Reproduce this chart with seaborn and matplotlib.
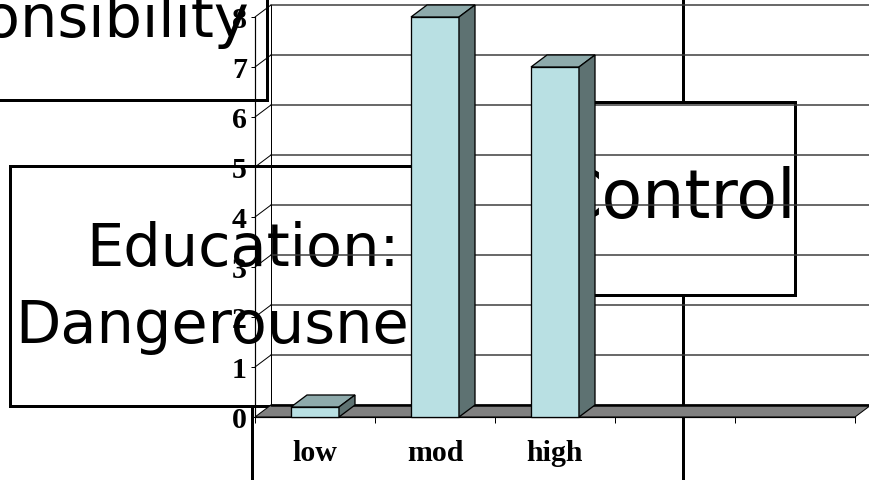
import numpy as np
import pandas as pd
import matplotlib
matplotlib.use("Agg")
import matplotlib.pyplot as plt
from matplotlib.patches import Polygon, Rectangle
from matplotlib.lines import Line2D
import seaborn as sns

# data
categories = ["low", "mod", "high"]
counts = [0.2, 8, 7]
y_ticks = [0, 1, 2, 3, 4, 5, 6, 7, 8]
n_slots = 5  # the category axis has two empty slots on the right

front_col = "#b9e0e3"
top_col = "#8eaaab"
side_col = "#5e7272"
floor_col = "#808080"
grid_col = "#3a3a3a"

sns.set_theme(style="white")

W, H = 869, 481
fig = plt.figure(figsize=(W / 100, H / 100), dpi=100)
fig.patch.set_facecolor("white")


def pt(v):
    # pixels -> points
    return v * 72 / 100


# --- slide furniture sitting behind the chart ---
def fig_line(xs, ys, lw=3, z=-5):
    fig.add_artist(Line2D([x / W for x in xs], [1 - y / H for y in ys],
                          color="black", lw=pt(lw), zorder=z))


def fig_box(x0, y0, x1, y1):
    fig.add_artist(Rectangle((x0 / W, 1 - y1 / H), (x1 - x0) / W, (y1 - y0) / H,
                             facecolor="white", edgecolor="black", lw=pt(3), zorder=-4))


def fig_text(x, y, s, ha, size=42.5):
    fig.text(x / W, 1 - y / H, s, ha=ha, va="baseline", fontsize=size,
             family="DejaVu Sans", color="black", zorder=-3)


fig_line([683, 683], [-5, 490])
fig_line([252, 252], [407, 490])

fig_box(-10, -10, 267, 101)
fig_box(10, 167, 468, 407)
fig_box(565, 103, 795, 296)

fig_text(249, 37, "Responsibility", "right")
fig_text(243, 266, "Education:", "center")
fig_text(243, 343, "Dangerousness", "center")
fig_text(796, 218, "Control", "right", size=48)

# --- the chart ---
ax = fig.add_axes([255 / W, (H - 418) / H, 600 / W, 400 / H])
ax.patch.set_visible(False)

df = pd.DataFrame({"level": categories, "count": counts})
sns.barplot(data=df, x="level", y="count", order=categories, color=front_col,
            saturation=1, width=0.4, edgecolor="black", linewidth=pt(1.3),
            ax=ax, zorder=5)
bars = list(ax.patches)

ax.set_xlim(-0.5, n_slots - 0.5)
ax.set_ylim(0, max(y_ticks))

# depth offset of the fake 3d look (data units)
dx, dy = 16 / 120, 0.24
x_left, x_right = -0.5, n_slots - 0.5

# back wall grid + little slanted connectors on the side wall
for k in y_ticks[1:]:
    ax.plot([x_left + dx, x_right + dx], [k + dy, k + dy], color=grid_col,
            lw=pt(1.5), clip_on=False, zorder=1)
    ax.plot([x_left, x_left + dx], [k, k + dy], color="black",
            lw=pt(1), clip_on=False, zorder=1)
ax.plot([x_left + dx, x_left + dx], [dy, max(y_ticks) + dy], color="black",
        lw=pt(1), clip_on=False, zorder=1)

# floor
ax.add_patch(Polygon([(x_left, 0), (x_right, 0), (x_right + dx, dy), (x_left + dx, dy)],
                     closed=True, facecolor=floor_col, edgecolor="black",
                     lw=pt(1), clip_on=False, zorder=2))
ax.plot([x_left + dx, x_right + dx], [dy, dy], color="black", lw=pt(2.5),
        clip_on=False, zorder=3)

# top and side faces of each bar
for p in bars:
    x0, w, h = p.get_x(), p.get_width(), p.get_height()
    p.set_clip_on(False)
    ax.add_patch(Polygon([(x0, h), (x0 + w, h), (x0 + w + dx, h + dy), (x0 + dx, h + dy)],
                         closed=True, facecolor=top_col, edgecolor="black",
                         lw=pt(1.3), clip_on=False, zorder=5))
    ax.add_patch(Polygon([(x0 + w, 0), (x0 + w + dx, dy), (x0 + w + dx, h + dy), (x0 + w, h)],
                         closed=True, facecolor=side_col, edgecolor="black",
                         lw=pt(1.3), clip_on=False, zorder=5))

for s in ["top", "right"]:
    ax.spines[s].set_visible(False)
for s in ["left", "bottom"]:
    ax.spines[s].set_color("black")
    ax.spines[s].set_linewidth(pt(1.2))
    ax.spines[s].set_zorder(4)

tick_font = dict(fontfamily="Liberation Serif", fontweight="bold", fontsize=21.5)
ax.set_yticks(y_ticks)
ax.set_yticklabels([str(v) for v in y_ticks], **tick_font)
ax.set_xticks(range(len(categories)))
ax.set_xticklabels(categories, **tick_font)
ax.set_xticks(np.arange(x_left, n_slots), minor=True)

ax.tick_params(axis="y", left=True, direction="out", length=pt(4), width=pt(1),
               pad=pt(4), colors="black")
ax.tick_params(axis="x", which="major", bottom=True, length=0, pad=pt(22), colors="black")
ax.tick_params(axis="x", which="minor", bottom=True, direction="out", length=pt(6),
               width=pt(1), colors="black")
ax.set_xlabel("")
ax.set_ylabel("")

fig.savefig("out.png", dpi=100)
